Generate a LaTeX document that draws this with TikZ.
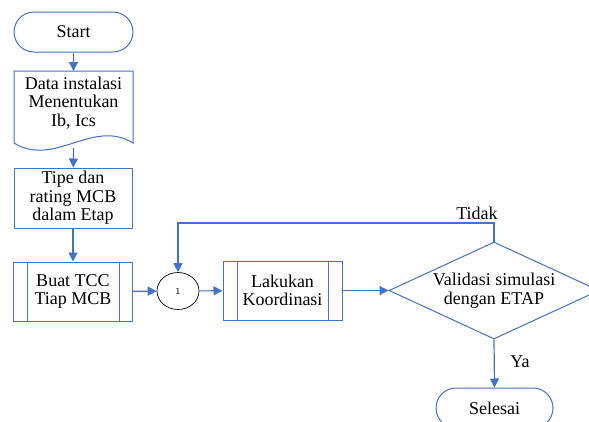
\documentclass[tikz,border=0pt]{standalone}
\usepackage{fontspec}
\setmainfont{Liberation Serif}
\usetikzlibrary{shapes.geometric,arrows.meta,calc}
\definecolor{fblue}{HTML}{4472C4}
\begin{document}
\begin{tikzpicture}[x=1pt,y=-1pt,
  line/.style={draw=fblue,line width=1pt},
  arr/.style={draw=fblue,line width=1.2pt,-{Triangle[length=9pt,width=9pt]}},
  txt/.style={font=\fontsize{18}{18.5}\selectfont,align=center,text=black},
  terminal/.style={line,txt,rectangle,rounded corners=20pt,minimum width=119pt,minimum height=40pt,inner sep=0pt},
  procbox/.style={line,txt,rectangle,minimum width=118pt,minimum height=60pt,inner sep=0pt},
  subproc/.style={line,txt,rectangle,minimum width=119pt,minimum height=59pt,inner sep=0pt},
  conn/.style={draw=black,line width=0.7pt,ellipse,minimum width=42pt,minimum height=37pt,inner sep=0pt,font=\sffamily\fontsize{9}{10}\selectfont},
  decision/.style={line,txt,diamond,minimum width=210pt,minimum height=97pt,inner sep=0pt,aspect=2.16},
  lbl/.style={font=\fontsize{18}{18}\selectfont,text=black}
]
\useasboundingbox (0,0) rectangle (589,421);

\node[terminal] (start) at (73.5,32) {Start};

% document shape
\node[txt,inner sep=0pt] (data) at (73.5,103) {Data instalasi\\Menentukan\\Ib, Ics};
\coordinate (docbot) at (73.5,148);
\draw[line] (14,143) -- (14,71) -- (133,71) -- (133,143)
  .. controls (93,118) and (54,168) .. (14,143);

\node[procbox] (tipe) at (73,198) {Tipe dan\\rating MCB\\dalam Etap};
\node[subproc] (buat) at (73,291.5) {Buat TCC\\Tiap MCB};
\draw[line] ($(buat.north west)+(14,0)$) -- ($(buat.south west)+(14,0)$);
\draw[line] ($(buat.north east)+(-14,0)$) -- ($(buat.south east)+(-14,0)$);

\node[conn] (c1) at (178,291) {1};

\node[subproc] (lak) at (282.5,290.5) {Lakukan\\Koordinasi};
\draw[line] ($(lak.north west)+(15,0)$) -- ($(lak.south west)+(15,0)$);
\draw[line] ($(lak.north east)+(-14,0)$) -- ($(lak.south east)+(-14,0)$);

\node[decision] (val) at (494,290.5) {Validasi simulasi\\dengan ETAP};

\node[terminal,minimum width=117pt] (end) at (494.5,408) {Selesai};

\draw[arr] (start) -- (data.north |- 0,71);
\draw[arr] (docbot) -- (tipe);
\draw[arr] (tipe) -- (buat);
\draw[arr] (buat) -- (c1);
\draw[arr] (c1) -- (lak);
\draw[arr] (lak) -- (val);
\draw[arr] (val.south) -- (end.north);
\node[lbl] (ya) at (520,362) {Ya};
\coordinate (fb) at (494,223);
\draw[arr] (val.north) -- (fb) -- (fb -| c1) -- (c1.north);
\node[lbl] (tidak) at (477,213) {Tidak};
\end{tikzpicture}
\end{document}
